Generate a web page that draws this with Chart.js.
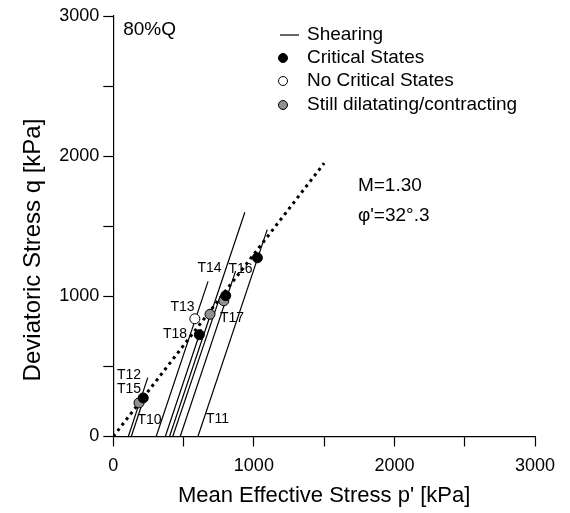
<!DOCTYPE html>
<html>
<head>
<meta charset="utf-8">
<script src="https://cdn.jsdelivr.net/npm/chart.js@4/dist/chart.umd.min.js"></script>
<style>
  html, body { margin: 0; padding: 0; background: #fff; }
  #wrap { width: 570px; height: 513px; }
</style>
</head>
<body>
<div id="wrap"><canvas id="chart" width="570" height="513"></canvas></div>
<script>
// critical states (black)
const critP = [1025, 800, 612, 213];
const critQ = [1275, 1005, 726, 275];
// no critical states (white)
const noCritP = [580];
const noCritQ = [840];
// still dilatating / contracting (grey)
const dilP = [786, 688, 183];
const dilQ = [968, 872, 240];

// shearing paths: start (p0, 0) -> end (p1, q1)
const shearP0 = [107, 128, 305, 370, 400, 423, 476, 602];
const shearP1 = [245, 222, 674, 625, 936, 760, 870, 1095];
const shearQ1 = [420, 285, 1107, 765, 1600, 1000, 1180, 1476];

// critical state line q = M p'
const cslP = [0, 1500];
const cslQ = [0, 1950];

// test labels
const testNames = ["T14", "T16", "T13", "T17", "T18", "T12", "T15", "T10", "T11"];
const testP = [684, 905, 492, 844, 439, 112, 112, 258, 741];
const testQ = [1201, 1194, 923, 844, 730, 438, 339, 118, 125];

const xTicks = [0, 1000, 2000, 3000];
const yTicks = [0, 1000, 2000, 3000];
const minorTicks = [0, 500, 1000, 1500, 2000, 2500, 3000];

const FONT = "Arial, 'Liberation Sans', sans-serif";

const pts = (xs, ys) => xs.map((x, i) => ({ x: x, y: ys[i] }));

const datasets = [
  {
    label: "Critical States",
    data: pts(critP, critQ),
    showLine: false,
    pointRadius: 5,
    pointBackgroundColor: "#000",
    pointBorderColor: "#000",
    pointBorderWidth: 1,
    order: 0,
  },
  {
    label: "No Critical States",
    data: pts(noCritP, noCritQ),
    showLine: false,
    pointRadius: 5,
    pointBackgroundColor: "#fff",
    pointBorderColor: "#000",
    pointBorderWidth: 1,
    order: 0,
  },
  {
    label: "Still dilatating/contracting",
    data: pts(dilP, dilQ),
    showLine: false,
    pointRadius: 5,
    pointBackgroundColor: "#909090",
    pointBorderColor: "#000",
    pointBorderWidth: 1,
    order: 0,
  },
];

shearP0.forEach((p0, i) => {
  datasets.push({
    label: "Shearing",
    data: [{ x: p0, y: 0 }, { x: shearP1[i], y: shearQ1[i] }],
    showLine: true,
    borderColor: "#000",
    borderWidth: 1.2,
    pointRadius: 0,
    order: 1,
  });
});

datasets.push({
  label: "CSL",
  data: pts(cslP, cslQ),
  showLine: true,
  borderColor: "#000",
  borderWidth: 3,
  borderDash: [3, 4],
  pointRadius: 0,
  order: 2,
});

// labels, y title and legend drawn on canvas
const textPlugin = {
  id: "texts",
  afterDatasetsDraw(chart) {
    const { ctx, scales } = chart;
    const x = scales.x, y = scales.y;
    ctx.save();
    ctx.fillStyle = "#000";
    ctx.font = "14px " + FONT;
    ctx.textAlign = "center";
    ctx.textBaseline = "middle";
    testNames.forEach((t, i) => {
      ctx.fillText(t, x.getPixelForValue(testP[i]), y.getPixelForValue(testQ[i]));
    });

    ctx.font = "19px " + FONT;
    ctx.textAlign = "left";
    ctx.fillText("80%Q", x.getPixelForValue(70), y.getPixelForValue(2905));
    ctx.fillText("M=1.30", x.getPixelForValue(1740), y.getPixelForValue(1792));
    ctx.fillText("\u03c6'=32\u00b0.3", x.getPixelForValue(1740), y.getPixelForValue(1578));

    // y axis title
    ctx.save();
    ctx.translate(33, 250);
    ctx.rotate(-Math.PI / 2);
    ctx.textAlign = "center";
    ctx.font = "24px " + FONT;
    ctx.fillText("Deviatoric Stress q [kPa]", 0, 0);
    ctx.restore();

    // legend
    const lx = 283, tx = 307;
    const rows = [35, 58, 81, 105];
    ctx.font = "19px " + FONT;
    ctx.strokeStyle = "#000";
    ctx.lineWidth = 1.2;
    ctx.beginPath();
    ctx.moveTo(280, rows[0]);
    ctx.lineTo(299, rows[0]);
    ctx.stroke();
    ctx.fillText("Shearing", tx, rows[0]);
    const fills = ["#000", "#fff", "#909090"];
    const names = ["Critical States", "No Critical States", "Still dilatating/contracting"];
    fills.forEach((f, i) => {
      ctx.beginPath();
      ctx.arc(lx, rows[i + 1], 4.5, 0, Math.PI * 2);
      ctx.fillStyle = f;
      ctx.fill();
      ctx.lineWidth = 1;
      ctx.stroke();
      ctx.fillStyle = "#000";
      ctx.fillText(names[i], tx, rows[i + 1]);
    });
    ctx.restore();
  },
};

const tickFont = { family: FONT, size: 18 };

new Chart(document.getElementById("chart"), {
  type: "scatter",
  data: { datasets },
  options: {
    responsive: false,
    animation: false,
    layout: { padding: { top: 16, right: 35, left: 0, bottom: 0 } },
    plugins: { legend: { display: false }, tooltip: { enabled: false } },
    scales: {
      x: {
        type: "linear",
        min: 0,
        max: 3000,
        afterFit: (s) => { s.height = 76.5; },
        afterBuildTicks: (s) => {
          s.ticks = minorTicks.map((v) => ({ value: v }));
        },
        border: { display: true, color: "#000", width: 1.2 },
        grid: { drawOnChartArea: false, color: "#000", tickLength: 10, tickWidth: 1.2 },
        ticks: {
          color: "#000",
          font: tickFont,
          padding: 9,
          maxRotation: 0,
          autoSkip: false,
          callback: (v) => (xTicks.includes(v) ? String(v) : ""),
        },
        title: {
          display: true,
          text: "Mean Effective Stress p' [kPa]",
          color: "#000",
          font: { family: FONT, size: 22 },
          padding: { top: 0, bottom: 4 },
        },
      },
      y: {
        type: "linear",
        min: 0,
        max: 3000,
        afterFit: (s) => { s.width = 113.3; },
        afterBuildTicks: (s) => {
          s.ticks = minorTicks.map((v) => ({ value: v }));
        },
        border: { display: true, color: "#000", width: 1.2 },
        grid: { drawOnChartArea: false, color: "#000", tickLength: 10, tickWidth: 1.2 },
        ticks: {
          color: "#000",
          font: tickFont,
          padding: 4,
          autoSkip: false,
          callback: (v) => (yTicks.includes(v) ? String(v) : ""),
        },
      },
    },
  },
  plugins: [textPlugin],
});
</script>
</body>
</html>
